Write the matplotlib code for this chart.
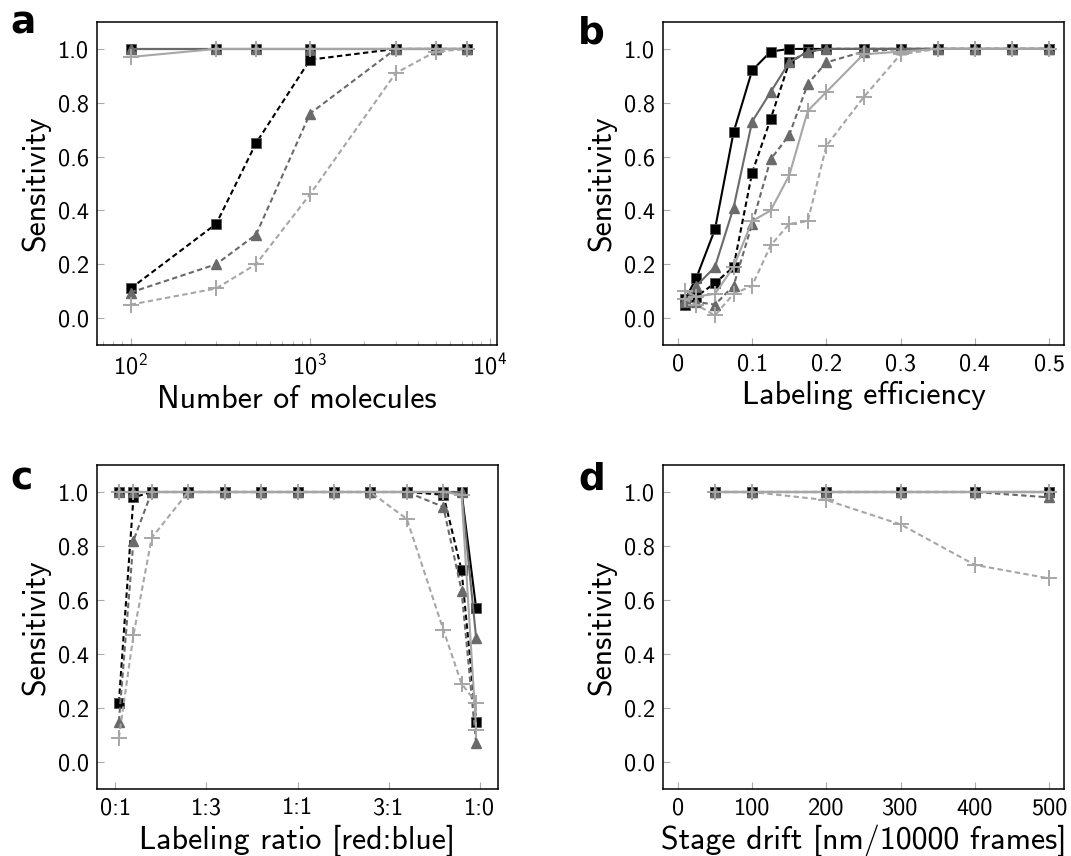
import matplotlib
matplotlib.use("Agg")
import matplotlib.pyplot as plt
import numpy as np

plt.rcParams['font.family'] = ['cmss10', 'DejaVu Sans']
plt.rcParams['axes.unicode_minus'] = False
plt.rcParams['mathtext.fontset'] = 'custom'
plt.rcParams['mathtext.rm'] = 'cmss10'
plt.rcParams['mathtext.it'] = 'cmss10'
plt.rcParams['mathtext.default'] = 'regular'

# ---------------- data ----------------
# panel a
a_x = [100, 300, 500, 1000, 3000, 5000, 7500]
a_black_solid = [1.0, 1.0, 1.0, 1.0, 1.0, 1.0, 1.0]
a_gray_solid = [1.0, 1.0, 1.0, 1.0, 1.0, 1.0, 1.0]
a_light_solid = [0.97, 1.0, 1.0, 1.0, 1.0, 1.0, 1.0]
a_black_dash = [0.11, 0.35, 0.65, 0.96, 1.0, 1.0, 1.0]
a_gray_dash = [0.095, 0.20, 0.31, 0.76, 1.0, 1.0, 1.0]
a_light_dash = [0.05, 0.11, 0.20, 0.46, 0.91, 0.99, 1.0]

# panel b
b_x = [0.01, 0.025, 0.05, 0.075, 0.1, 0.125, 0.15, 0.175, 0.2, 0.25, 0.3, 0.35, 0.4, 0.45, 0.5]
b_black_solid = [0.07, 0.15, 0.33, 0.69, 0.92, 0.99, 1.0, 1.0, 1.0, 1.0, 1.0, 1.0, 1.0, 1.0, 1.0]
b_gray_solid = [0.06, 0.12, 0.19, 0.41, 0.73, 0.84, 0.95, 0.99, 1.0, 1.0, 1.0, 1.0, 1.0, 1.0, 1.0]
b_light_solid = [0.10, 0.08, 0.09, 0.19, 0.36, 0.40, 0.53, 0.77, 0.84, 0.98, 0.99, 1.0, 1.0, 1.0, 1.0]
b_black_dash = [0.05, 0.08, 0.13, 0.19, 0.54, 0.74, 0.95, 0.99, 1.0, 1.0, 1.0, 1.0, 1.0, 1.0, 1.0]
b_gray_dash = [0.07, 0.06, 0.05, 0.12, 0.35, 0.59, 0.68, 0.87, 0.95, 0.99, 1.0, 1.0, 1.0, 1.0, 1.0]
b_light_dash = [0.07, 0.05, 0.01, 0.09, 0.12, 0.27, 0.35, 0.36, 0.64, 0.82, 0.98, 1.0, 1.0, 1.0, 1.0]

# panel c (fraction of red)
c_x = [0.01, 0.05, 0.1, 0.2, 0.3, 0.4, 0.5, 0.6, 0.7, 0.8, 0.9, 0.95, 0.99]
c_ticks = [0.0, 0.25, 0.5, 0.75, 1.0]
c_ticklabels = ['0:1', '1:3', '1:1', '3:1', '1:0']
c_black_solid = [1.0, 1.0, 1.0, 1.0, 1.0, 1.0, 1.0, 1.0, 1.0, 1.0, 1.0, 1.0, 0.57]
c_gray_solid = [1.0, 1.0, 1.0, 1.0, 1.0, 1.0, 1.0, 1.0, 1.0, 1.0, 1.0, 1.0, 0.46]
c_light_solid = [1.0, 1.0, 1.0, 1.0, 1.0, 1.0, 1.0, 1.0, 1.0, 1.0, 1.0, 0.99, 0.12]
c_black_dash = [0.22, 0.98, 1.0, 1.0, 1.0, 1.0, 1.0, 1.0, 1.0, 1.0, 0.99, 0.71, 0.15]
c_gray_dash = [0.15, 0.82, 1.0, 1.0, 1.0, 1.0, 1.0, 1.0, 1.0, 1.0, 0.945, 0.635, 0.07]
c_light_dash = [0.09, 0.47, 0.83, 1.0, 1.0, 1.0, 1.0, 1.0, 1.0, 0.90, 0.49, 0.29, 0.22]

# panel d
d_x = [50, 100, 200, 300, 400, 500]
d_black_solid = [1.0, 1.0, 1.0, 1.0, 1.0, 1.0]
d_gray_solid = [1.0, 1.0, 1.0, 1.0, 1.0, 1.0]
d_light_solid = [1.0, 1.0, 1.0, 1.0, 1.0, 1.0]
d_black_dash = [1.0, 1.0, 1.0, 1.0, 1.0, 1.0]
d_gray_dash = [1.0, 1.0, 1.0, 1.0, 1.0, 0.98]
d_light_dash = [1.0, 1.0, 0.97, 0.88, 0.73, 0.68]

# ---------------- styles ----------------
BLACK = '#000000'
GRAY = '#6a6a6a'
LIGHT = '#a6a6a6'
DASH = (0, (2.6, 1.6))

def draw(ax, x, series):
    bs, gs, ls, bd, gd, ld = series
    ax.plot(x, bs, color=BLACK, lw=1.5, marker='s', ms=7.5, mfc=BLACK, mec='#555555', mew=0.6, zorder=3)
    ax.plot(x, bd, color=BLACK, lw=1.5, ls=DASH, marker='s', ms=7.5, mfc=BLACK, mec='#555555', mew=0.6, zorder=3)
    ax.plot(x, gs, color=GRAY, lw=1.5, marker='^', ms=7.5, mfc=GRAY, mec=GRAY, zorder=4)
    ax.plot(x, gd, color=GRAY, lw=1.5, ls=DASH, marker='^', ms=7.5, mfc=GRAY, mec=GRAY, zorder=4)
    ax.plot(x, ls, color=LIGHT, lw=1.5, marker='+', ms=11, mew=1.4, zorder=5)
    ax.plot(x, ld, color=LIGHT, lw=1.5, ls=DASH, marker='+', ms=11, mew=1.4, zorder=5)

def style(ax):
    ax.set_ylim(-0.1, 1.1)
    ax.set_yticks([0.0, 0.2, 0.4, 0.6, 0.8, 1.0])
    ax.set_yticklabels(['0.0', '0.2', '0.4', '0.6', '0.8', '1.0'])
    ax.tick_params(which='both', direction='in', colors='#aaaaaa', labelcolor='black',
                   labelsize=17.5, top=False, right=False, pad=6)
    ax.tick_params(which='major', length=5)
    ax.tick_params(which='minor', length=3)
    for s in ax.spines.values():
        s.set_linewidth(1.1)
        s.set_color('black')
    ax.set_ylabel('Sensitivity', fontsize=23, labelpad=5)

W, H = 1071, 856
fig = plt.figure(figsize=(W / 100, H / 100), dpi=100)

def add_ax(l, t, r, b):
    return fig.add_axes([l / W, 1 - b / H, (r - l) / W, (b - t) / H])

ax_a = add_ax(97, 22, 497, 345)
ax_b = add_ax(663, 22, 1064, 345)
ax_c = add_ax(97, 465, 498, 789)
ax_d = add_ax(663, 465, 1064, 789)

# a
draw(ax_a, a_x, [a_black_solid, a_gray_solid, a_light_solid, a_black_dash, a_gray_dash, a_light_dash])
ax_a.set_xscale('log')
ax_a.set_xlim(65, 11000)
style(ax_a)
ax_a.set_xlabel('Number of molecules', fontsize=23)

# b
draw(ax_b, b_x, [b_black_solid, b_gray_solid, b_light_solid, b_black_dash, b_gray_dash, b_light_dash])
ax_b.set_xlim(-0.02, 0.52)
ax_b.set_xticks([0, 0.1, 0.2, 0.3, 0.4, 0.5])
ax_b.set_xticklabels(['0', '0.1', '0.2', '0.3', '0.4', '0.5'])
style(ax_b)
ax_b.set_xlabel('Labeling efficiency', fontsize=23)

# c
draw(ax_c, c_x, [c_black_solid, c_gray_solid, c_light_solid, c_black_dash, c_gray_dash, c_light_dash])
ax_c.set_xlim(-0.05, 1.05)
ax_c.set_xticks(c_ticks)
ax_c.set_xticklabels(c_ticklabels)
style(ax_c)
ax_c.set_xlabel('Labeling ratio [red:blue]', fontsize=23)

# d
draw(ax_d, d_x, [d_black_solid, d_gray_solid, d_light_solid, d_black_dash, d_gray_dash, d_light_dash])
ax_d.set_xlim(-20, 520)
ax_d.set_xticks([0, 100, 200, 300, 400, 500])
ax_d.set_xticklabels(['0', '100', '200', '300', '400', '500'])
style(ax_d)
ax_d.set_xlabel('Stage drift [nm/10000 frames]', fontsize=23)

for lab, (px, py) in zip(['a', 'b', 'c', 'd'], [(10, 34), (578, 43), (10, 490), (578, 490)]):
    fig.text(px / W, 1 - py / H, lab, fontsize=27, fontweight='bold',
             family='DejaVu Sans', ha='left', va='baseline')

fig.savefig('out.png', dpi=100)
